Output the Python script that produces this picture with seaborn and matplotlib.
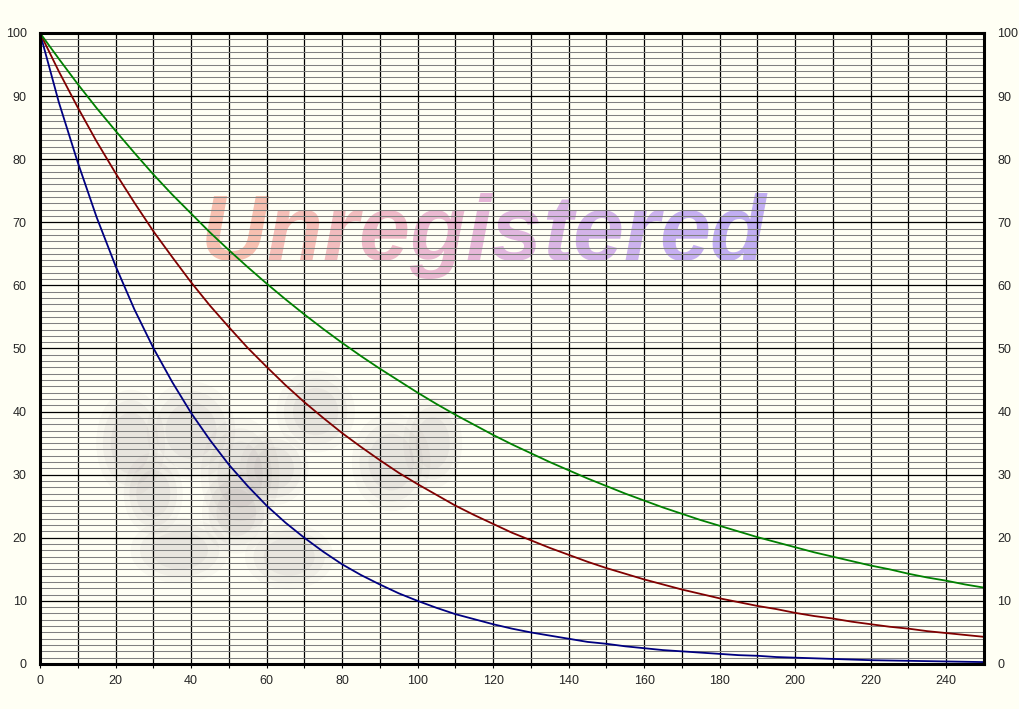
import numpy as np
import pandas as pd
import seaborn as sns
import matplotlib.pyplot as plt
from matplotlib.patches import Ellipse

# values, every 5 units of x
x_vals = list(range(0, 255, 5))
blue_vals = [100, 89, 79.5, 70.8, 63.1, 56.2, 50.1, 44.7, 39.8, 35.5, 31.6, 28.2, 25.1, 22.4, 20.0,
             17.8, 15.8, 14.1, 12.6, 11.2, 10.0, 8.9, 7.9, 7.1, 6.3, 5.6, 5.0, 4.5, 4.0, 3.5,
             3.2, 2.8, 2.5, 2.2, 2.0, 1.8, 1.6, 1.4, 1.3, 1.1, 1.0, 0.9, 0.8, 0.7, 0.6,
             0.55, 0.5, 0.45, 0.4, 0.35, 0.3]
red_vals = [100, 93.9, 88.2, 82.8, 77.8, 73.1, 68.6, 64.5, 60.5, 56.8, 53.4, 50.1, 47.1, 44.2, 41.5,
            39.0, 36.6, 34.4, 32.3, 30.3, 28.5, 26.8, 25.1, 23.6, 22.2, 20.8, 19.6, 18.4, 17.3, 16.2,
            15.2, 14.3, 13.4, 12.6, 11.8, 11.1, 10.4, 9.8, 9.2, 8.7, 8.1, 7.6, 7.2, 6.7, 6.3,
            5.9, 5.6, 5.2, 4.9, 4.6, 4.3]
green_vals = [100, 95.9, 91.9, 88.1, 84.5, 81.0, 77.6, 74.4, 71.4, 68.4, 65.6, 62.9, 60.3, 57.8, 55.4,
              53.1, 50.9, 48.8, 46.8, 44.9, 43.0, 41.2, 39.5, 37.9, 36.3, 34.8, 33.4, 32.0, 30.7, 29.4,
              28.2, 27.0, 25.9, 24.8, 23.8, 22.8, 21.9, 21.0, 20.1, 19.3, 18.5, 17.7, 17.0, 16.3, 15.6,
              15.0, 14.3, 13.7, 13.2, 12.6, 12.1]

series_names = ["blue", "red", "green"]
series_colors = {"blue": "#000080", "red": "#800000", "green": "#008000"}

# watermark
wm_text = "Unregistered"
wm_colors = ["#f5a896", "#f2a5a0", "#eea2aa", "#e9a0b8", "#e49ec4", "#de9ccf",
             "#d69bd8", "#cc99df", "#c296e6", "#b994ec", "#b191f0", "#aa8ff2"]
# faint grey blob (centre x, centre y, width, height) in data units
blob_x = [24, 40, 53, 37, 73, 93, 104, 66, 52, 62, 30]
blob_y = [35, 37, 30, 18, 40, 32, 35, 17, 24, 31, 27]
blob_w = [14, 18, 16, 20, 16, 16, 12, 18, 14, 14, 12]
blob_h = [13, 12, 14, 8, 10, 12, 11, 8, 10, 9, 10]

df = pd.DataFrame({
    "x": x_vals * 3,
    "y": blue_vals + red_vals + green_vals,
    "series": ["blue"] * len(x_vals) + ["red"] * len(x_vals) + ["green"] * len(x_vals),
})

sns.set_style("white")
bg = "#fffff4"
fig = plt.figure(figsize=(10.2, 7.09), dpi=100, facecolor=bg)
ax = fig.add_axes([0.0392, 0.0635, 0.9255, 0.89])
ax.set_facecolor(bg)

for bx, by, bw, bh in zip(blob_x, blob_y, blob_w, blob_h):
    for k, a in [(1.3, 0.05), (1.05, 0.07), (0.75, 0.08)]:
        ax.add_patch(Ellipse((bx, by), bw * k, bh * k, facecolor="#8a7a80",
                             edgecolor="none", alpha=a, zorder=0.3))

# letters chained one after another so each can take its own colour
t = ax.text(42.5, 61.0, wm_text[0], fontsize=66, fontstyle="italic", fontweight="bold",
            family="Liberation Sans", color=wm_colors[0], alpha=0.72,
            ha="left", va="bottom", zorder=0.5)
for ch, c in zip(wm_text[1:], wm_colors[1:]):
    t = ax.annotate(ch, xy=(1, 0), xycoords=t, fontsize=66, fontstyle="italic",
                    fontweight="bold", family="Liberation Sans", color=c, alpha=0.72,
                    ha="left", va="bottom", zorder=0.5, annotation_clip=False)

sns.lineplot(data=df, x="x", y="y", hue="series", palette=series_colors,
             hue_order=series_names, linewidth=1.3, legend=False, ax=ax, zorder=3)

ax.set_xlim(0, 250)
ax.set_ylim(0, 100)
ax.set_xticks(np.arange(0, 250, 10))
ax.set_xticklabels([str(v) if v % 20 == 0 else "" for v in range(0, 250, 10)])
ax.set_yticks(np.arange(0, 101, 10))
ax.set_yticks(np.arange(0, 101, 1), minor=True)

ax.set_axisbelow(False)
ax.grid(which="minor", axis="y", color="#808080", linewidth=0.75)
ax.grid(which="major", axis="both", color="black", linewidth=0.9)

ax.tick_params(axis="x", which="major", bottom=True, length=3, width=0.8, color="black",
               pad=5, labelsize=9)
ax.tick_params(axis="y", which="both", left=False, right=False, labelleft=True,
               labelright=True, pad=6, labelsize=9)
for lab in ax.get_xticklabels() + ax.get_yticklabels():
    lab.set_family("Liberation Sans")

for s in ax.spines.values():
    s.set_visible(True)
    s.set_color("black")
    s.set_linewidth(2.2)
    s.set_zorder(4)

ax.set_xlabel("")
ax.set_ylabel("")

fig.savefig("out.png", dpi=100, facecolor=bg)
